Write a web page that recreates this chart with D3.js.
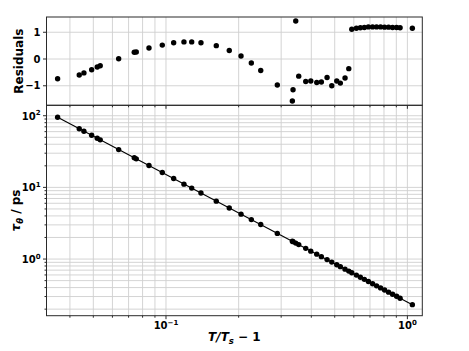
<!DOCTYPE html>
<html><head><meta charset="utf-8">
<script src="https://cdn.jsdelivr.net/npm/d3@7"></script>
<style>body{margin:0;background:#fff} text{font-family:"DejaVu Sans";font-weight:bold;fill:#000}</style>
</head><body><svg id="c" width="469" height="351"></svg>
<script>
// reduced temperature T/Ts - 1
const xValues=[0.03557,0.04372,0.04572,0.04921,0.05190,0.05341,0.06368,0.07389,0.07532,0.08503,
0.09654,0.1076,0.1187,0.1278,0.1396,0.1616,0.1829,0.2046,0.2257,0.2469,
0.2892,0.3338,0.3360,0.3448,0.3548,0.3793,0.3980,0.4213,0.4402,0.4648,
0.4862,0.5099,0.5277,0.5518,0.5718,0.5884,0.6148,0.6386,0.6635,0.6894,
0.7176,0.7455,0.7745,0.8045,0.8358,0.8684,0.9022,0.9327,1.0488];
// relaxation time tau_theta / ps
const tauValues=[95.0,65.9,60.8,53.4,48.5,46.1,33.7,25.9,25.0,20.2,
16.1,13.3,11.1,9.77,8.34,6.43,5.16,4.23,3.55,3.03,
2.28,1.77,1.75,1.67,1.59,1.41,1.29,1.17,1.08,0.982,
0.906,0.833,0.783,0.723,0.679,0.645,0.597,0.558,0.521,0.487,
0.453,0.423,0.396,0.370,0.345,0.323,0.302,0.284,0.231];
// residuals
const residuals=[-0.74,-0.60,-0.52,-0.40,-0.30,-0.25,0.01,0.25,0.26,0.41,
0.52,0.61,0.64,0.64,0.61,0.50,0.32,0.11,-0.15,-0.43,
-0.97,-1.57,-1.15,1.42,-0.64,-0.84,-0.82,-0.88,-0.86,-0.69,
-1.00,-0.82,-0.90,-0.71,-0.36,1.11,1.15,1.17,1.18,1.20,
1.20,1.20,1.20,1.19,1.19,1.18,1.18,1.17,1.15];
// power-law fit line endpoints
const fitX=[0.03557,1.0488];
const fitTau=[95.0,0.231];
// ticks
const resTicks=[-1,0,1];
const resTickLabels=["\u22121","0","1"];
const xMajorTicks=[0.1,1];
const xTickExps=["\u22121","0"];
const tauMajorTicks=[1,10,100];
const tauTickExps=["0","1","2"];

const svg=d3.select("#c");
const L=46.5,R=422.3,T1=17,B1=105.3,T2=105.3,B2=315.7;
const x=d3.scaleLog().domain([0.03199,1.153]).range([L,R]);
const yRes=d3.scaleLinear().domain([-1.73,1.57]).range([B1,T1]);
const yTau=d3.scaleLog().domain([0.162,139.8]).range([B2,T2]);

function logTicks(lo,hi){const t=[];for(let e=-3;e<=3;e++)for(let m=1;m<10;m++){const v=m*Math.pow(10,e);if(v>=lo&&v<=hi)t.push(v);}return t;}
const xAll=logTicks(x.domain()[0],x.domain()[1]);
const tauAll=logTicks(yTau.domain()[0],yTau.domain()[1]);
const isMajor=v=>Math.abs(Math.log10(v)-Math.round(Math.log10(v)))<1e-9;

const gridC="#cfcfcf", spineC="#2a2a2a";
const grid=svg.append("g").attr("stroke",gridC).attr("stroke-width",0.9);
// vertical grid both panels
xAll.forEach(v=>{
  grid.append("line").attr("x1",x(v)).attr("x2",x(v)).attr("y1",T1).attr("y2",B1);
  grid.append("line").attr("x1",x(v)).attr("x2",x(v)).attr("y1",T2).attr("y2",B2);
});
resTicks.forEach(v=>grid.append("line").attr("x1",L).attr("x2",R).attr("y1",yRes(v)).attr("y2",yRes(v)));
tauAll.forEach(v=>grid.append("line").attr("x1",L).attr("x2",R).attr("y1",yTau(v)).attr("y2",yTau(v)));

// fit line
svg.append("path").datum(fitX.map((d,i)=>[d,fitTau[i]]))
  .attr("d",d3.line().x(d=>x(d[0])).y(d=>yTau(d[1])))
  .attr("fill","none").attr("stroke","#000").attr("stroke-width",1.1);
// points
svg.append("g").selectAll("circle").data(xValues).join("circle")
  .attr("cx",d=>x(d)).attr("cy",(d,i)=>yTau(tauValues[i])).attr("r",2.7).attr("fill","#000");
svg.append("g").selectAll("circle").data(xValues).join("circle")
  .attr("cx",d=>x(d)).attr("cy",(d,i)=>yRes(residuals[i])).attr("r",2.7).attr("fill","#000");

// spines
const sp=svg.append("g").attr("fill","none").attr("stroke",spineC).attr("stroke-width",1);
sp.append("rect").attr("x",L).attr("y",T1).attr("width",R-L).attr("height",B1-T1);
sp.append("rect").attr("x",L).attr("y",T2).attr("width",R-L).attr("height",B2-T2);
// ticks
xAll.forEach(v=>{const len=isMajor(v)?3.5:2;
  sp.append("line").attr("x1",x(v)).attr("x2",x(v)).attr("y1",B1).attr("y2",B1+len);
  sp.append("line").attr("x1",x(v)).attr("x2",x(v)).attr("y1",B2).attr("y2",B2+len);});
resTicks.forEach(v=>sp.append("line").attr("x1",L-3.5).attr("x2",L).attr("y1",yRes(v)).attr("y2",yRes(v)));
tauAll.forEach(v=>{const len=isMajor(v)?3.5:2;sp.append("line").attr("x1",L-len).attr("x2",L).attr("y1",yTau(v)).attr("y2",yTau(v));});

// tick labels
resTicks.forEach((v,i)=>svg.append("text").attr("x",L-6).attr("y",yRes(v)+3.6).attr("text-anchor","end").attr("font-size",10).text(resTickLabels[i]));
function powLabel(g,exp){g.append("tspan").text("10");g.append("tspan").attr("font-size",7).attr("dy",-4.5).text(exp);}
tauMajorTicks.forEach((v,i)=>{const t=svg.append("text").attr("x",L-6).attr("y",yTau(v)+4).attr("text-anchor","end").attr("font-size",10);powLabel(t,tauTickExps[i]);});
xMajorTicks.forEach((v,i)=>{const t=svg.append("text").attr("x",x(v)).attr("y",B2+13.5).attr("text-anchor","middle").attr("font-size",10);powLabel(t,xTickExps[i]);});

// axis labels
svg.append("text").attr("transform",`translate(23,${(T1+B1)/2}) rotate(-90)`).attr("text-anchor","middle").attr("font-size",12).text("Residuals");
const yl=svg.append("text").attr("transform",`translate(20,${(T2+B2)/2}) rotate(-90)`).attr("text-anchor","middle").attr("font-size",12);
yl.append("tspan").attr("font-style","italic").text("\u03c4");
yl.append("tspan").attr("font-style","italic").attr("font-size",8.5).attr("dy",2.5).text("\u03b8");
yl.append("tspan").attr("dy",-2.5).text(" / ps");
const xl=svg.append("text").attr("x",(L+R)/2).attr("y",341).attr("text-anchor","middle").attr("font-size",12);
xl.append("tspan").attr("font-style","italic").text("T/T");
xl.append("tspan").attr("font-style","italic").attr("font-size",8.5).attr("dy",2.5).text("s");
xl.append("tspan").attr("dy",-2.5).text(" \u2212 1");
</script></body></html>
